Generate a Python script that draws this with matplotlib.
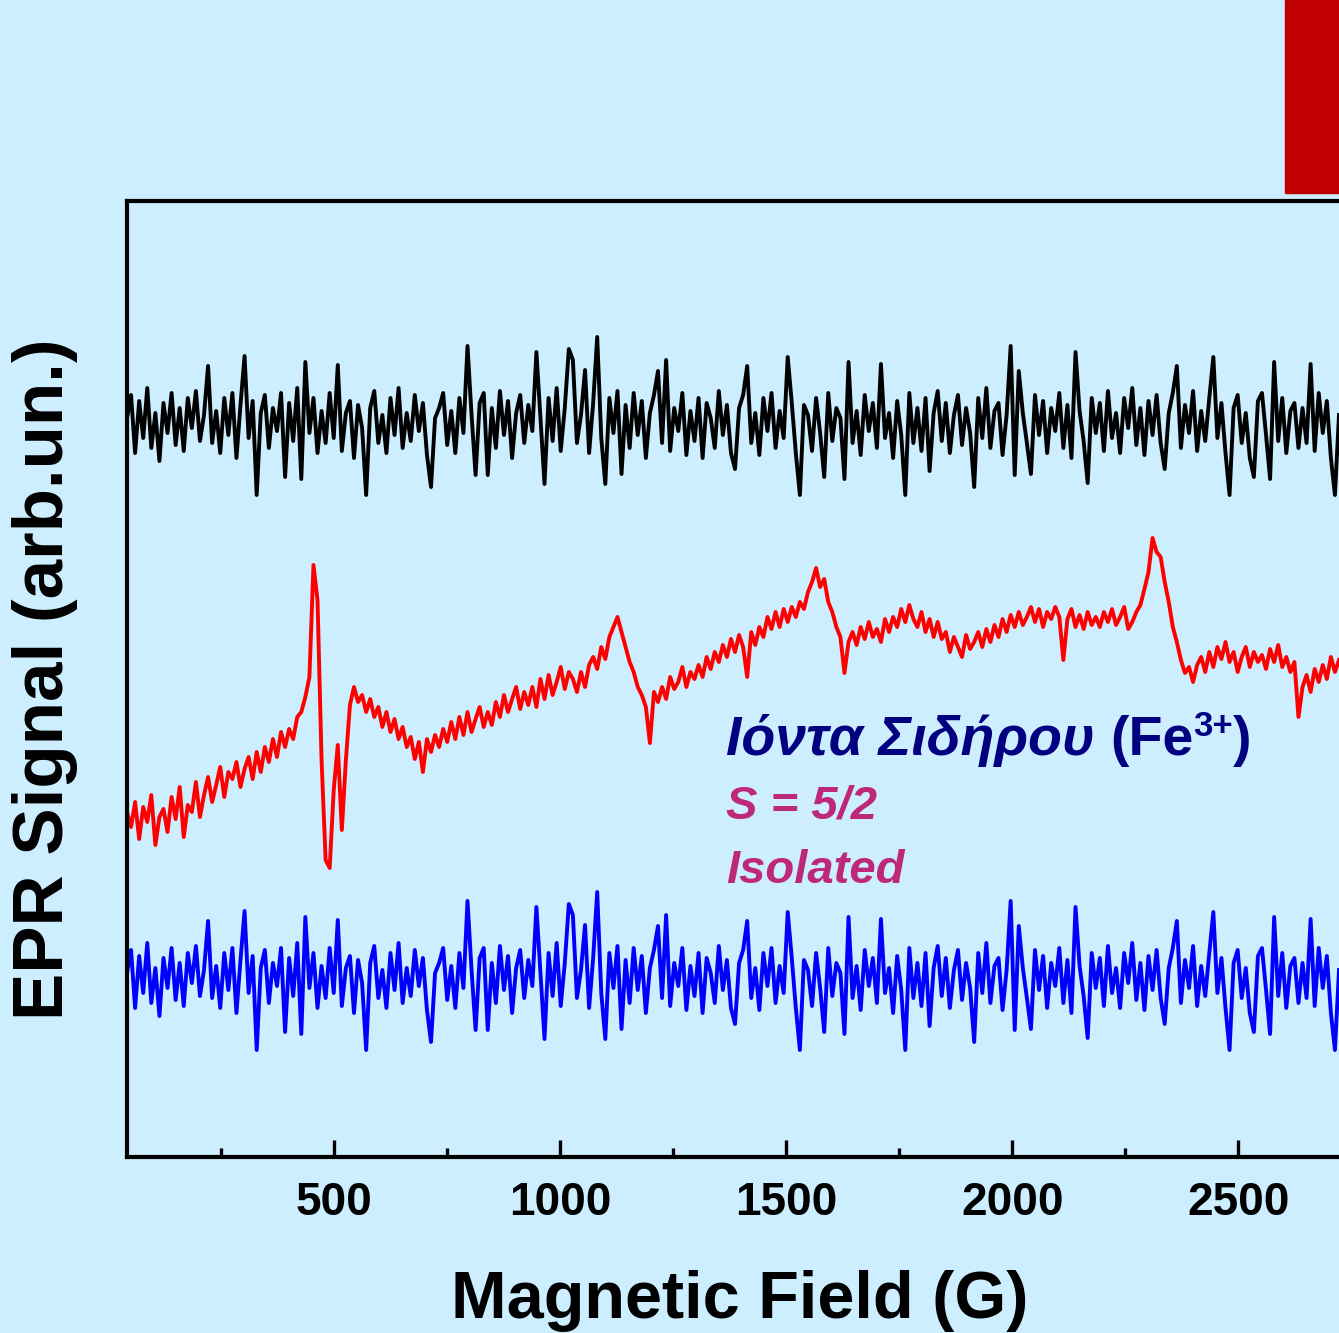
import numpy as np
import matplotlib
matplotlib.use("Agg")
import matplotlib.pyplot as plt
from matplotlib.patches import Rectangle
from matplotlib.ticker import MultipleLocator

plt.rcParams['font.family'] = ['Liberation Sans', 'DejaVu Sans']

# field axis of the sweep (G)
field = np.linspace(42, 2723, 300)

# shared noise of the two flat traces (arb. units, deviation from baseline)
noise = [
    5, 28, -30, 22, -15, 35, -25, 10, -38, 20,
    -10, 30, -22, 15, -28, 25, -5, 32, -18, 8,
    57, -20, 12, -30, 25, -12, 30, -35, 18, 67,
    -15, 22, -72, 10, 28, -25, 15, -8, 30, -54,
    20, -18, 35, -56, 61, -10, 25, -30, 12, -20,
    30, -15, 58, -28, 10, 22, -35, 18, -5, -72,
    15, 32, -20, 8, -30, 25, -12, 35, -25, 10,
    -18, 28, -8, 20, -32, -64, 5, 15, 30, -22,
    12, -30, 25, -10, 77, 8, -52, 20, 30, -52,
    15, -25, 32, -12, 22, -35, 10, 28, -20, 18,
    -8, 71, 5, -61, 25, -18, 35, -28, 15, 74,
    63, -20, 8, 53, -30, 20, 86, -15, -61, 25,
    -10, 32, -51, 18, -25, 30, -12, 22, -35, 10,
    28, 52, -20, 63, -28, 15, -8, 30, -32, 12,
    -18, 25, -35, 20, 5, -25, 32, -12, 18, -30,
    -46, 15, 28, 57, -20, 10, -32, 25, -8, 30,
    -25, 12, -15, 66, 20, -30, -72, 18, 8, -28,
    25, -10, -54, 30, -18, 15, 5, -56, 61, -20,
    12, -32, 28, -8, 20, -25, 59, -15, 10, -35,
    22, -12, -72, 30, -20, 15, -28, 25, -48, 10,
    32, -18, 20, -30, 8, 28, -22, 15, -10, -64,
    25, -15, 35, -25, 12, 20, -32, 8, 77, -52,
    52, 10, -20, -51, 28, -12, 22, -30, 15, -8,
    30, -25, 18, -35, 71, 12, -18, -60, 25, -10,
    20, -28, 32, -15, 10, -30, 25, -5, 35, -22,
    15, -32, 22, -12, 28, -20, -46, 10, 30, 57,
    -25, 18, -10, 32, -28, 12, -18, 25, 66, -15,
    20, -30, -72, 15, 28, -20, 10, -35, -54, 22,
    30, -12, -56, 61, -18, 25, -30, 12, 20, -25,
    15, -20, 59, -28, 30, -10, 22, -35, -72, 8,
]

# Fe3+ spectrum (arb. units)
fe_signal = [
    345, 330, 355, 318, 350, 335, 362, 312, 340, 348,
    325, 360, 338, 370, 320, 352, 345, 375, 340, 362,
    380, 355, 372, 390, 360, 385, 378, 395, 370, 388,
    400, 378, 405, 385, 410, 395, 418, 400, 425, 410,
    428, 418, 440, 445, 460, 480, 592, 557, 397, 297,
    289, 367, 412, 327, 397, 452, 470, 455, 462, 445,
    458, 440, 450, 430, 445, 425, 438, 418, 430, 410,
    420, 398, 415, 385, 418, 405, 422, 410, 428, 415,
    435, 418, 440, 422, 445, 425, 438, 450, 430, 445,
    432, 455, 440, 462, 445, 458, 470, 448, 465, 452,
    470, 450, 478, 458, 482, 462, 475, 490, 468, 485,
    478, 465, 485, 470, 492, 500, 488, 510, 498, 520,
    530, 540, 525, 510, 495, 485, 470, 462, 450, 414,
    465, 455, 470, 458, 480, 468, 475, 490, 470, 485,
    478, 492, 480, 500, 488, 505, 495, 512, 500, 518,
    505, 522, 510, 480, 525, 512, 530, 520, 540, 528,
    545, 530, 548, 535, 550, 540, 555, 548, 565, 575,
    589, 570, 578, 555, 545, 530, 520, 484, 515, 525,
    512, 530, 518, 535, 520, 528, 515, 538, 525, 540,
    530, 548, 535, 552, 538, 530, 545, 525, 538, 520,
    535, 518, 525, 505, 520, 510, 500, 522, 508, 515,
    525, 510, 528, 515, 532, 520, 538, 525, 542, 530,
    545, 532, 540, 550, 535, 548, 530, 545, 538, 550,
    540, 497, 538, 548, 530, 542, 528, 545, 532, 540,
    530, 545, 535, 548, 532, 540, 550, 528, 535, 545,
    552, 568, 585, 619, 605, 600, 575, 555, 530, 515,
    497, 484, 490, 475, 492, 500, 485, 505, 490, 510,
    498, 515, 495, 505, 485, 500, 510, 490, 505, 495,
    502, 488, 508, 495, 512, 490, 500, 485, 495, 440,
    470, 482, 465, 488, 475, 492, 478, 500, 485, 497,
]

black_base = 734
blue_base = 179

bg = '#CCEEFE'
fig = plt.figure(figsize=(13.39, 13.33), dpi=100, facecolor=bg)
ax = fig.add_axes([127/1339, 176/1333, 1 - 127/1339, 956/1333], facecolor=bg)

noise = np.array(noise)
ax.plot(field, black_base + noise, color='black', lw=2.8)
ax.plot(field, fe_signal, color='#FF0000', lw=2.8)
ax.plot(field, blue_base + noise, color='#0000FF', lw=2.8)

ax.set_xlim(42, 2723)
ax.set_ylim(0, 956)
ax.spines['right'].set_visible(False)
for s in ['left', 'bottom', 'top']:
    ax.spines[s].set_linewidth(3)
ax.xaxis.set_major_locator(MultipleLocator(500))
ax.xaxis.set_minor_locator(MultipleLocator(250))
ax.tick_params(axis='x', which='major', direction='in', length=12, width=2.4,
               pad=17, labelsize=33)
ax.tick_params(axis='x', which='minor', direction='in', length=6.5, width=2.4)
for lab in ax.get_xticklabels():
    lab.set_fontweight('bold')
ax.set_yticks([])

fig.text(45/1339, (1333-679)/1333, 'EPR Signal (arb.un.)', rotation=90,
         ha='center', va='center', fontsize=51, fontweight='bold')
fig.text(740/1339, 15/1333, 'Magnetic Field (G)', ha='center', va='baseline',
         fontsize=48, fontweight='bold')

navy = '#000080'
pink = '#BE2878'
y1 = 0.4205
t1 = ax.text(0.494, y1, 'Ιόντα Σιδήρου ', transform=ax.transAxes,
             fontsize=40, fontweight='bold', fontstyle='italic', color=navy,
             va='baseline')
t2 = ax.annotate('(Fe', xy=(1, y1), xycoords=(t1, 'axes fraction'),
                 va='baseline', ha='left', fontsize=40, fontweight='bold',
                 color=navy)
t3 = ax.annotate('3+', xy=(1, y1 + 19/956), xycoords=(t2, 'axes fraction'),
                 va='baseline', ha='left', fontsize=25, fontweight='bold',
                 color=navy)
ax.annotate(')', xy=(1, y1), xycoords=(t3, 'axes fraction'), va='baseline',
            ha='left', fontsize=40, fontweight='bold', color=navy)
ax.text(0.494, 0.3546, 'S = 5/2', transform=ax.transAxes, fontsize=34,
        fontweight='bold', fontstyle='italic', color=pink, va='baseline')
ax.text(0.494, 0.2866, 'Isolated', transform=ax.transAxes, fontsize=34,
        fontweight='bold', fontstyle='italic', color=pink, va='baseline')

fig.patches.append(Rectangle((1285/1339, 1 - 193/1333), 60/1339, 193/1333,
                             transform=fig.transFigure, color='#C00000',
                             figure=fig))

fig.savefig('out.png', dpi=100, facecolor=bg)
